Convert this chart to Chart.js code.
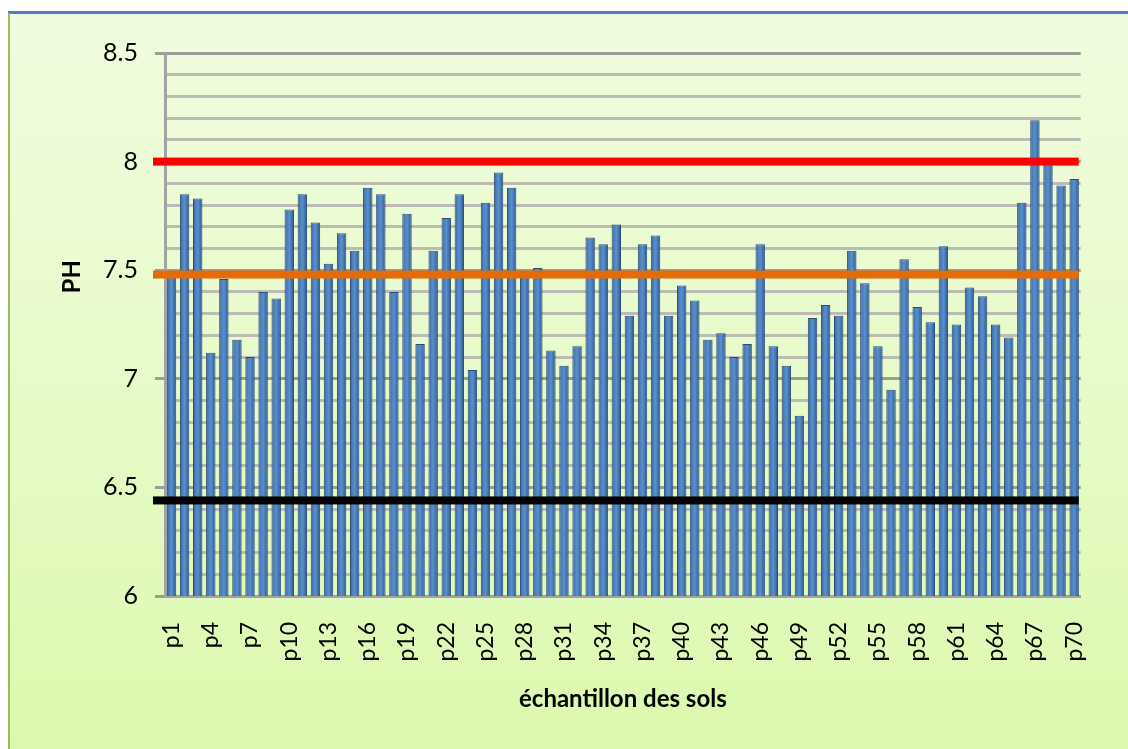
<!DOCTYPE html>
<html>
<head>
<meta charset="utf-8">
<script src="https://cdn.jsdelivr.net/npm/chart.js@4/dist/chart.umd.min.js"></script>
<style>
  html, body { margin: 0; padding: 0; background: #ffffff; }
  #wrap { width: 1128px; height: 749px; }
</style>
</head>
<body>
<div id="wrap"><canvas id="ph" width="1128" height="749"></canvas></div>
<script>
// Soil samples p1..p70
const categories = [
  'p1','p2','p3','p4','p5','p6','p7','p8','p9','p10',
  'p11','p12','p13','p14','p15','p16','p17','p18','p19','p20',
  'p21','p22','p23','p24','p25','p26','p27','p28','p29','p30',
  'p31','p32','p33','p34','p35','p36','p37','p38','p39','p40',
  'p41','p42','p43','p44','p45','p46','p47','p48','p49','p50',
  'p51','p52','p53','p54','p55','p56','p57','p58','p59','p60',
  'p61','p62','p63','p64','p65','p66','p67','p68','p69','p70'
];

// Measured pH per sample
const phValues = [
  7.48, 7.85, 7.83, 7.12, 7.46, 7.18, 7.10, 7.40, 7.37, 7.78,
  7.85, 7.72, 7.53, 7.67, 7.59, 7.88, 7.85, 7.40, 7.76, 7.16,
  7.59, 7.74, 7.85, 7.04, 7.81, 7.95, 7.88, 7.49, 7.51, 7.13,
  7.06, 7.15, 7.65, 7.62, 7.71, 7.29, 7.62, 7.66, 7.29, 7.43,
  7.36, 7.18, 7.21, 7.10, 7.16, 7.62, 7.15, 7.06, 6.83, 7.28,
  7.34, 7.29, 7.59, 7.44, 7.15, 6.95, 7.55, 7.33, 7.26, 7.61,
  7.25, 7.42, 7.38, 7.25, 7.19, 7.81, 8.19, 7.99, 7.89, 7.92
];

// Reference pH levels drawn across the plot
const referenceLevels = [8.0, 7.48, 6.44];

// Y axis range and step
const yRange = [6, 8.5];
const yStep = 0.1;
const yLabelStep = 0.5;

// Axis titles
const xTitle = 'échantillon des sols';
const yTitle = 'PH';

// Styling
const levelColors = ['#ff0000', '#e36c09', '#000000'];
const FONT = 'Lato, "Open Sans", "DejaVu Sans", sans-serif';

const isMajor = v => Math.abs(v / yLabelStep - Math.round(v / yLabelStep)) < 1e-6;

// Frame and pale green background of the chart object
const backgroundPlugin = {
  id: 'frameBackground',
  beforeDraw(chart) {
    const ctx = chart.ctx;
    const w = chart.width, h = chart.height;
    ctx.save();
    ctx.fillStyle = '#ffffff';
    ctx.fillRect(0, 0, w, h);
    const g = ctx.createLinearGradient(0, 13, 0, h);
    g.addColorStop(0, '#f0fcdf');
    g.addColorStop(0.5, '#e7fbc9');
    g.addColorStop(1, '#dbf9ad');
    ctx.fillStyle = g;
    ctx.fillRect(9, 13, w - 9, h - 13);
    ctx.fillStyle = '#4f81bd';
    ctx.fillRect(8, 11, w - 8, 3);
    ctx.fillStyle = '#9bbb59';
    ctx.fillRect(8, 13, 2, h - 13);
    ctx.restore();
  }
};

// Vertical axis title, set a little above the middle of the axis
const yTitlePlugin = {
  id: 'yAxisTitle',
  afterDraw(chart) {
    const ctx = chart.ctx;
    const y = chart.scales.y;
    const cy = y.getPixelForValue(7.47);
    ctx.save();
    ctx.translate(72, cy);
    ctx.rotate(-Math.PI / 2);
    ctx.font = 'bold 24px ' + FONT;
    ctx.fillStyle = '#000000';
    ctx.textAlign = 'center';
    ctx.textBaseline = 'middle';
    ctx.fillText(yTitle, 0, 0);
    ctx.restore();
  }
};

// Horizontal reference bands drawn over the columns
const levelsPlugin = {
  id: 'referenceLevels',
  afterDatasetsDraw(chart) {
    const { ctx, chartArea } = chart;
    const y = chart.scales.y;
    ctx.save();
    referenceLevels.forEach((v, i) => {
      const py = y.getPixelForValue(v);
      ctx.fillStyle = levelColors[i];
      ctx.fillRect(chartArea.left - 12, py - 4, chartArea.right - chartArea.left + 10, 8);
    });
    ctx.restore();
  }
};

// Cylinder-like shading for each column
function barFill(context) {
  const chart = context.chart;
  const xs = chart.scales && chart.scales.x;
  if (!xs || context.dataIndex === undefined) return '#4f81bd';
  const cx = xs.getPixelForValue(context.dataIndex);
  if (!Number.isFinite(cx)) return '#4f81bd';
  const half = 5;
  const g = chart.ctx.createLinearGradient(cx - half, 0, cx + half, 0);
  g.addColorStop(0, '#2f5b91');
  g.addColorStop(0.25, '#4b7dbb');
  g.addColorStop(0.5, '#5b8ecd');
  g.addColorStop(0.72, '#4677b3');
  g.addColorStop(1, '#254a78');
  return g;
}

new Chart(document.getElementById('ph'), {
  type: 'bar',
  data: {
    labels: categories,
    datasets: [{
      label: yTitle,
      data: phValues,
      backgroundColor: barFill,
      borderColor: '#2a4c78',
      borderWidth: 1,
      borderSkipped: 'bottom',
      barPercentage: 0.72,
      categoryPercentage: 1.0
    }]
  },
  options: {
    responsive: false,
    animation: false,
    layout: { padding: { left: 10, right: 33, top: 53, bottom: 0 } },
    plugins: {
      legend: { display: false },
      tooltip: { enabled: false }
    },
    scales: {
      x: {
        grid: { display: false, drawTicks: false },
        border: { display: true, color: '#a3a3a3', width: 3 },
        ticks: {
          autoSkip: false,
          minRotation: 90,
          maxRotation: 90,
          padding: 26,
          color: '#000000',
          font: { family: FONT, size: 23 },
          callback: (v, i) => (i % 3 === 0 ? categories[i] : '')
        },
        title: {
          display: true,
          text: xTitle,
          color: '#000000',
          font: { family: FONT, size: 24, weight: 'bold' },
          padding: { top: 0, bottom: 35 }
        },
        afterFit(scale) { scale.height = 153; }
      },
      y: {
        min: yRange[0],
        max: yRange[1],
        grid: {
          color: ctx => (ctx.tick && isMajor(ctx.tick.value) ? '#9d9d98' : '#bcbcb4'),
          lineWidth: 3,
          tickLength: 10,
          tickColor: ctx => (ctx.tick && isMajor(ctx.tick.value) ? '#9d9d98' : 'rgba(0,0,0,0)'),
          tickWidth: 3
        },
        border: { display: true, color: '#a3a3a3', width: 3 },
        ticks: {
          stepSize: yStep,
          maxTicksLimit: 100,
          autoSkip: false,
          padding: 17,
          color: '#000000',
          font: { family: FONT, size: 25 },
          callback: v => (isMajor(v) ? String(Math.round(v * 10) / 10) : '')
        },
        title: { display: false },
        afterFit(scale) { scale.width = 155; }
      }
    }
  },
  plugins: [backgroundPlugin, levelsPlugin, yTitlePlugin]
});
</script>
</body>
</html>
